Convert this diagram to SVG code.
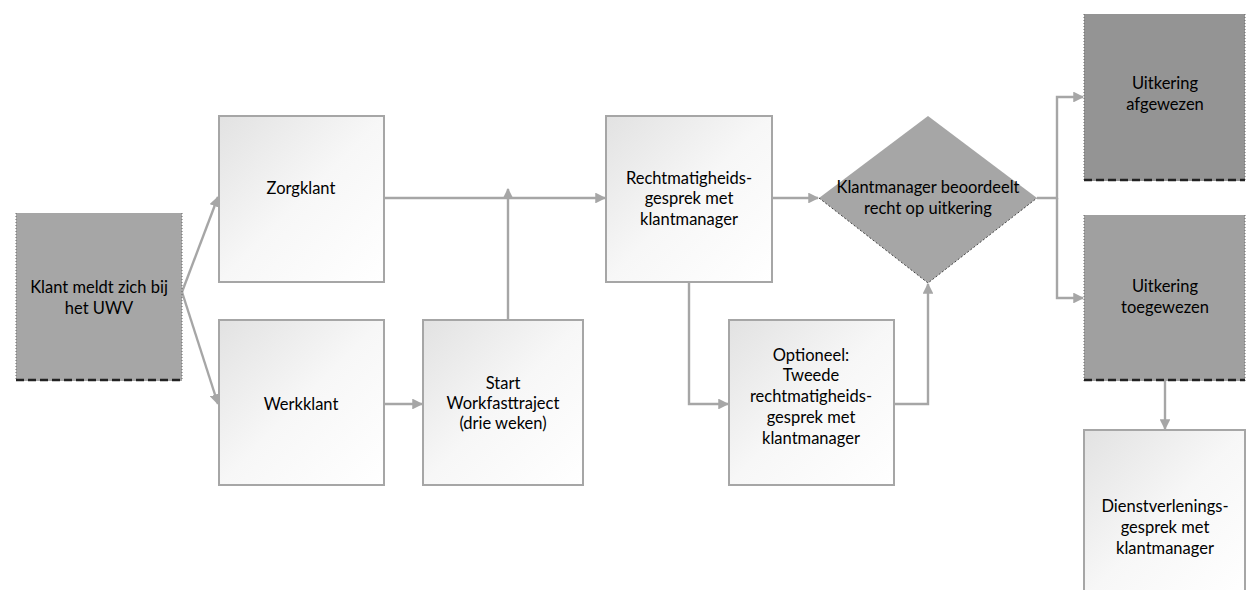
<svg xmlns="http://www.w3.org/2000/svg" width="1250" height="590" viewBox="0 0 1250 590">
<defs>
<linearGradient id="lg" x1="0" y1="0" x2="1" y2="1">
<stop offset="0" stop-color="#e2e2e2"/>
<stop offset="0.5" stop-color="#f7f7f7"/>
<stop offset="1" stop-color="#ffffff"/>
</linearGradient>
<marker id="ah" viewBox="0 0 10 10" refX="9" refY="5" markerWidth="4.5" markerHeight="4.5" orient="auto" markerUnits="strokeWidth">
<path d="M0,0 L10,5 L0,10 z" fill="#a6a6a6"/>
</marker>
</defs>
<style>
.lt{fill:url(#lg);stroke:#a6a6a6;stroke-width:2}
.dk{stroke:none}
.sd{stroke:#666;stroke-width:1;stroke-dasharray:1 2;fill:none}
.bd{stroke:#222;stroke-width:2.5;stroke-dasharray:8 4;fill:none}
.cn{fill:none;stroke:#a6a6a6;stroke-width:2.4}
text{font-family:Lato,"Open Sans","Liberation Sans",sans-serif;font-size:16.5px;fill:#000;text-anchor:middle}
</style>
<rect width="1250" height="590" fill="#ffffff"/>
<g id="connectors">
<path class="cn" d="M182,292 L218,197" marker-end="url(#ah)"/>
<path class="cn" d="M182,292 L218,404" marker-end="url(#ah)"/>
<path class="cn" d="M384,198 L605,198" marker-end="url(#ah)"/>
<path class="cn" d="M508,320 L508,189" marker-end="url(#ah)"/>
<path class="cn" d="M384,404 L422,404" marker-end="url(#ah)"/>
<path class="cn" d="M689,282 L689,404 L728,404" marker-end="url(#ah)"/>
<path class="cn" d="M772,198 L818,198" marker-end="url(#ah)"/>
<path class="cn" d="M894,404 L928,404 L928,284" marker-end="url(#ah)"/>
<path class="cn" d="M1037,198 L1057,198 L1057,97 L1083,97" marker-end="url(#ah)"/>
<path class="cn" d="M1057,198 L1057,298 L1083,298" marker-end="url(#ah)"/>
<path class="cn" d="M1165,381 L1165,429" marker-end="url(#ah)"/>
</g>
<g id="klant">
<rect class="dk" x="16" y="213" width="166" height="168" fill="#a6a6a6"/>
<path class="sd" d="M16,213 L16,381 M182,213 L182,381"/>
<path class="bd" d="M16,380 L182,380"/>
<text x="99" y="293">Klant meldt zich bij</text>
<text x="99" y="314">het UWV</text>
</g>
<g id="zorgklant">
<rect class="lt" x="219" y="116" width="165" height="166"/>
<text x="301" y="194">Zorgklant</text>
</g>
<g id="werkklant">
<rect class="lt" x="219" y="320" width="165" height="165"/>
<text x="301" y="410">Werkklant</text>
</g>
<g id="start">
<rect class="lt" x="423" y="320" width="160" height="165"/>
<text x="503" y="389">Start</text>
<text x="503" y="409">Workfasttraject</text>
<text x="503" y="429">(drie weken)</text>
</g>
<g id="rechtmatigheid">
<rect class="lt" x="606" y="116" width="166" height="166"/>
<text x="689" y="184">Rechtmatigheids-</text>
<text x="689" y="204">gesprek met</text>
<text x="689" y="225">klantmanager</text>
</g>
<g id="beoordeelt">
<polygon points="928,116 1037,198 928,283 819,198" fill="#a6a6a6"/>
<path d="M819,198 L928,283 L1037,198" fill="none" stroke="#444" stroke-width="1" stroke-dasharray="2 2"/>
<text x="928" y="193">Klantmanager beoordeelt</text>
<text x="928" y="214">recht op uitkering</text>
</g>
<g id="optioneel">
<rect class="lt" x="729" y="320" width="165" height="165"/>
<text x="811" y="361">Optioneel:</text>
<text x="811" y="381">Tweede</text>
<text x="811" y="402">rechtmatigheids-</text>
<text x="811" y="423">gesprek met</text>
<text x="811" y="444">klantmanager</text>
</g>
<g id="afgewezen">
<rect class="dk" x="1084" y="14" width="161" height="167" fill="#949494"/>
<path class="sd" d="M1084,14 L1084,181 M1245,14 L1245,181"/>
<path class="bd" d="M1084,180 L1245,180"/>
<text x="1165" y="89">Uitkering</text>
<text x="1165" y="110">afgewezen</text>
</g>
<g id="toegewezen">
<rect class="dk" x="1084" y="215" width="161" height="166" fill="#a0a0a0"/>
<path class="sd" d="M1084,215 L1084,381 M1245,215 L1245,381"/>
<path class="bd" d="M1084,380 L1245,380"/>
<text x="1165" y="292">Uitkering</text>
<text x="1165" y="313">toegewezen</text>
</g>
<g id="dienstverlening">
<rect class="lt" x="1084" y="430" width="161" height="170"/>
<text x="1165" y="512">Dienstverlenings-</text>
<text x="1165" y="533">gesprek met</text>
<text x="1165" y="554">klantmanager</text>
</g>
</svg>
